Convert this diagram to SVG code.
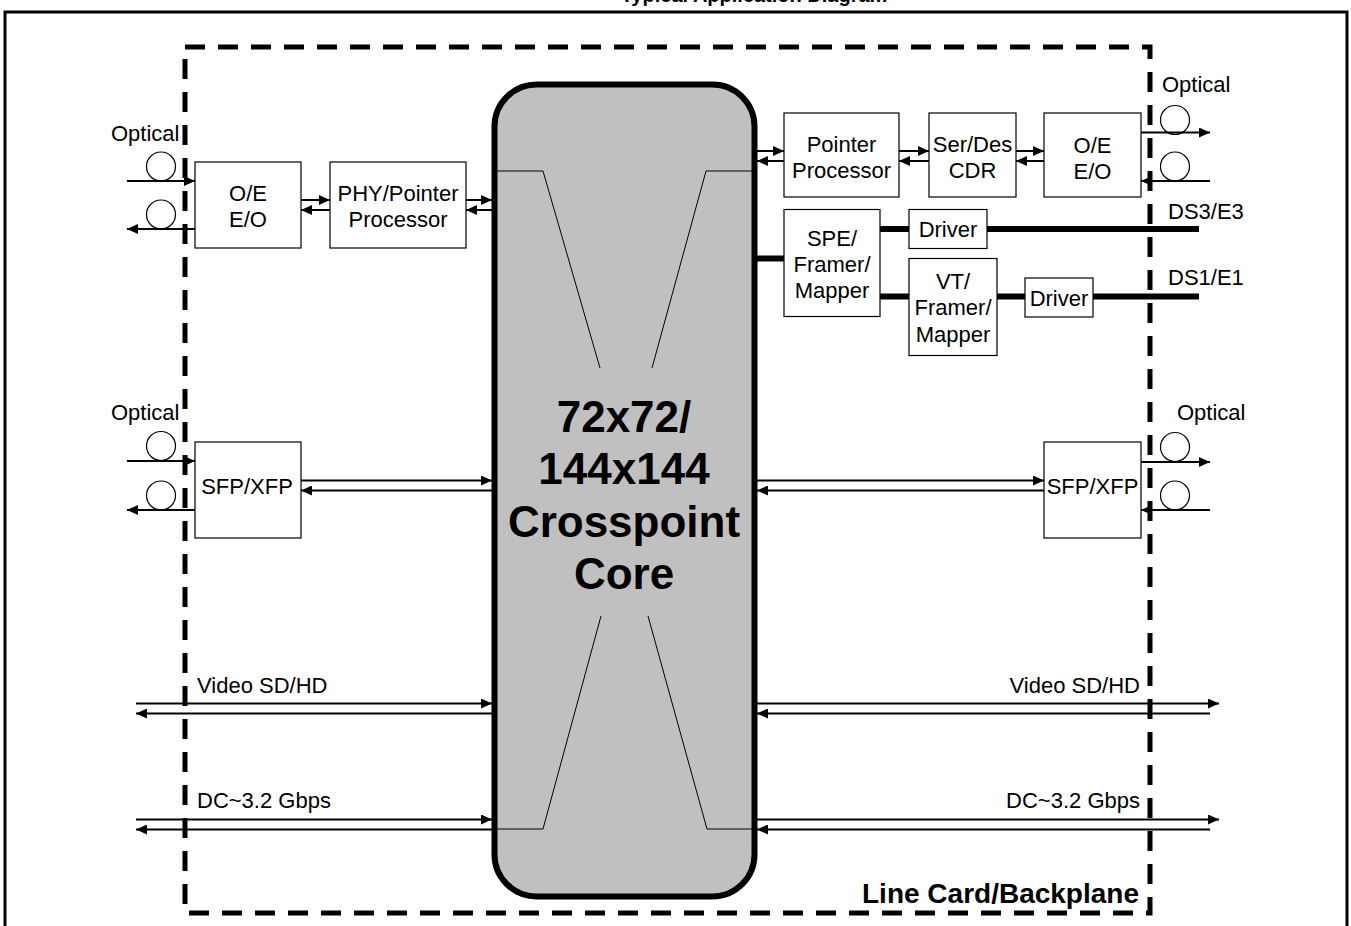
<svg xmlns="http://www.w3.org/2000/svg" width="1351" height="926" viewBox="0 0 1351 926">
<style>
text{font-family:"Liberation Sans",Arial,sans-serif;font-size:22px;fill:#000}
.c{text-anchor:middle}
.r{text-anchor:end}
.b{font-weight:bold}
.t{font-size:20px}
.big{font-size:44px}
.lc{font-size:28px}
.box{fill:#fff;stroke:#000;stroke-width:1.2}
.ln{stroke:#000;stroke-width:2;fill:none}
.thk{stroke:#000;stroke-width:6;fill:none}
.thin{stroke:#000;stroke-width:1;fill:none}
.a{marker-end:url(#ah)}
.circ{fill:#fff;stroke:#000;stroke-width:1.2}
</style>
<defs>
<marker id="ah" markerUnits="userSpaceOnUse" markerWidth="11" markerHeight="10" refX="11" refY="5" orient="auto">
<path d="M0,0 L11,5 L0,10 z" fill="#000"/>
</marker>
</defs>
<rect width="1351" height="926" fill="#fff"/>
<text class="c b t" x="754" y="2">Typical Application Diagram</text>
<rect x="5" y="12" width="1342" height="930" fill="none" stroke="#000" stroke-width="3"/>
<rect x="185" y="47" width="965" height="866" fill="none" stroke="#000" stroke-width="5" stroke-dasharray="20 13"/>

<g id="core">
<rect x="494.5" y="84.5" width="260" height="812" rx="42" fill="#c0c0c0" stroke="#000" stroke-width="6"/>
<polyline class="thin" points="497,171 543,171 600,368"/>
<polyline class="thin" points="752,171 706,171 652,368"/>
<polyline class="thin" points="497,829 543,829 601,616"/>
<polyline class="thin" points="752,829 707,829 648,616"/>
<text class="c b big" x="624" y="432">72x72/</text>
<text class="c b big" x="624" y="484">144x144</text>
<text class="c b big" x="624" y="537">Crosspoint</text>
<text class="c b big" x="624" y="589">Core</text>
</g>

<g id="opt-left-top">
<text x="111" y="141">Optical</text>
<circle class="circ" cx="161" cy="166.5" r="14.5"/>
<circle class="circ" cx="161" cy="214.5" r="14.5"/>
</g>
<g id="oe-left">
<rect class="box" x="195" y="162" width="106" height="86"/>
<text class="c" x="248" y="201">O/E</text>
<text class="c" x="248" y="227">E/O</text>
</g>
<g id="phy">
<rect class="box" x="330" y="162" width="136" height="86"/>
<text class="c" x="398" y="201">PHY/Pointer</text>
<text class="c" x="398" y="227">Processor</text>
</g>

<g id="pp">
<rect class="box" x="784" y="113" width="115" height="84"/>
<text class="c" x="841.5" y="152">Pointer</text>
<text class="c" x="841.5" y="178">Processor</text>
</g>
<g id="serdes">
<rect class="box" x="929" y="113" width="87" height="84"/>
<text class="c" x="972.5" y="152">Ser/Des</text>
<text class="c" x="972.5" y="178">CDR</text>
</g>
<g id="oe-right">
<rect class="box" x="1044" y="113" width="97" height="84"/>
<text class="c" x="1092.5" y="153">O/E</text>
<text class="c" x="1092.5" y="179">E/O</text>
</g>
<g id="opt-right-top">
<text x="1162" y="92">Optical</text>
<circle class="circ" cx="1175" cy="120" r="14.5"/>
<circle class="circ" cx="1175" cy="166.5" r="14.5"/>
</g>

<g id="spe">
<rect class="box" x="784" y="209.5" width="96" height="107"/>
<text class="c" x="832" y="246">SPE/</text>
<text class="c" x="832" y="272">Framer/</text>
<text class="c" x="832" y="298">Mapper</text>
</g>
<g id="driver1">
<rect class="box" x="909" y="209.5" width="78" height="39"/>
<text class="c" x="948" y="237">Driver</text>
</g>
<g id="vt">
<rect class="box" x="909" y="258.5" width="88" height="97"/>
<text class="c" x="953" y="289">VT/</text>
<text class="c" x="953" y="315">Framer/</text>
<text class="c" x="953" y="342">Mapper</text>
</g>
<g id="driver2">
<rect class="box" x="1025" y="278" width="68" height="39"/>
<text class="c" x="1059" y="306">Driver</text>
</g>
<text x="1168" y="219">DS3/E3</text>
<text x="1168" y="285">DS1/E1</text>

<g id="opt-left-mid">
<text x="111" y="420">Optical</text>
<circle class="circ" cx="161" cy="446" r="14.5"/>
<circle class="circ" cx="161" cy="495.5" r="14.5"/>
</g>
<g id="sfp-left">
<rect class="box" x="195" y="442" width="106" height="96"/>
<text class="c" x="247" y="494">SFP/XFP</text>
</g>
<g id="sfp-right">
<rect class="box" x="1044" y="442" width="97" height="96"/>
<text class="c" x="1092.5" y="494">SFP/XFP</text>
</g>
<g id="opt-right-mid">
<text x="1177" y="420">Optical</text>
<circle class="circ" cx="1175" cy="447" r="14.5"/>
<circle class="circ" cx="1175" cy="495.5" r="14.5"/>
</g>

<text x="197" y="693">Video SD/HD</text>
<text x="197" y="808">DC~3.2 Gbps</text>
<text class="r" x="1140" y="693">Video SD/HD</text>
<text class="r" x="1140" y="808">DC~3.2 Gbps</text>
<text class="r b lc" x="1139" y="903">Line Card/Backplane</text>

<g id="connectors">
<line class="ln a" x1="127" y1="181" x2="195" y2="181"/>
<line class="ln a" x1="195" y1="229" x2="127" y2="229"/>
<line class="ln a" x1="301" y1="200" x2="330" y2="200"/>
<line class="ln a" x1="330" y1="210" x2="301" y2="210"/>
<line class="ln a" x1="466" y1="200" x2="492" y2="200"/>
<line class="ln a" x1="492" y1="210" x2="466" y2="210"/>

<line class="ln a" x1="757" y1="151" x2="784" y2="151"/>
<line class="ln a" x1="784" y1="161" x2="757" y2="161"/>
<line class="ln a" x1="899" y1="151" x2="929" y2="151"/>
<line class="ln a" x1="929" y1="161" x2="899" y2="161"/>
<line class="ln a" x1="1016" y1="151" x2="1044" y2="151"/>
<line class="ln a" x1="1044" y1="161" x2="1016" y2="161"/>
<line class="ln a" x1="1141" y1="132.5" x2="1210" y2="132.5"/>
<line class="ln a" x1="1210" y1="181" x2="1141" y2="181"/>

<line class="thk" x1="757" y1="258.5" x2="784" y2="258.5"/>
<line class="thk" x1="880" y1="229" x2="909" y2="229"/>
<line class="thk" x1="987" y1="229" x2="1199" y2="229"/>
<line class="thk" x1="880" y1="296.5" x2="909" y2="296.5"/>
<line class="thk" x1="997" y1="296.5" x2="1025" y2="296.5"/>
<line class="thk" x1="1093" y1="296.5" x2="1199" y2="296.5"/>

<line class="ln a" x1="127" y1="461" x2="195" y2="461"/>
<line class="ln a" x1="195" y1="510" x2="127" y2="510"/>
<line class="ln a" x1="301" y1="480.5" x2="492" y2="480.5"/>
<line class="ln a" x1="492" y1="490.5" x2="301" y2="490.5"/>
<line class="ln a" x1="757" y1="480.5" x2="1044" y2="480.5"/>
<line class="ln a" x1="1044" y1="490.5" x2="757" y2="490.5"/>
<line class="ln a" x1="1141" y1="462" x2="1210" y2="462"/>
<line class="ln a" x1="1210" y1="510" x2="1141" y2="510"/>

<line class="ln a" x1="136" y1="703.5" x2="492" y2="703.5"/>
<line class="ln a" x1="492" y1="713.5" x2="136" y2="713.5"/>
<line class="ln a" x1="136" y1="819.5" x2="492" y2="819.5"/>
<line class="ln a" x1="492" y1="829.5" x2="136" y2="829.5"/>
<line class="ln a" x1="757" y1="703.5" x2="1219" y2="703.5"/>
<line class="ln a" x1="1210" y1="713.5" x2="757" y2="713.5"/>
<line class="ln a" x1="757" y1="819.5" x2="1219" y2="819.5"/>
<line class="ln a" x1="1210" y1="829.5" x2="757" y2="829.5"/>
</g>
</svg>
